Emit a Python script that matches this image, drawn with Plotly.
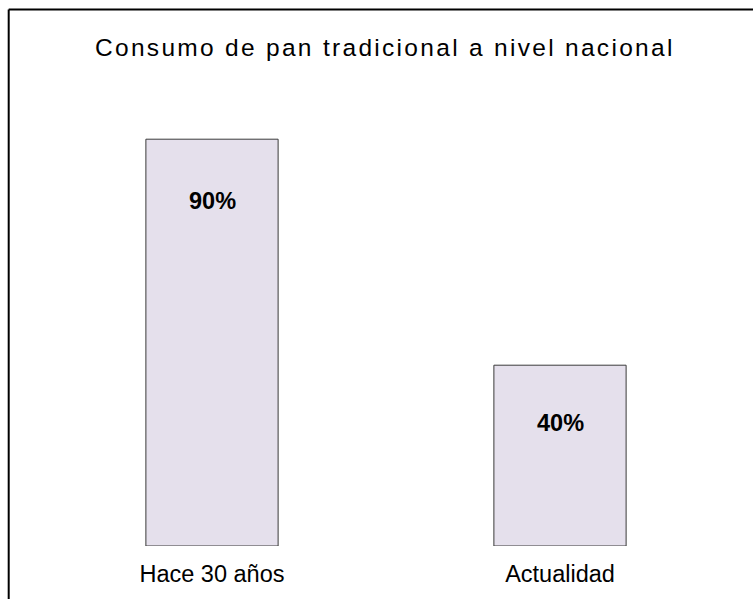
import plotly.graph_objects as go

categories = ["Hace 30 años", "Actualidad"]
values = [90, 40]
title_text = "Consumo de pan tradicional a nivel nacional"

W, H = 753, 599
L, R, T, B = 38, 19, 94, 53
pw, ph = W - L - R, H - T - B

font_family = "Liberation Sans, Arial, Helvetica, sans-serif"

fig = go.Figure()
fig.add_trace(go.Bar(
    x=categories, y=values, width=0.38,
    marker=dict(color="#E5E0EC", line=dict(color="#3A3A3A", width=1)),
    hoverinfo="skip",
))

label_shifts = [-62, -58]
for c, v, s in zip(categories, values, label_shifts):
    fig.add_annotation(x=c, y=v, text=f"<b>{v}%</b>", showarrow=False,
                       yshift=s, yanchor="middle",
                       font=dict(family=font_family, size=23.5, color="#000000"))

fig.add_annotation(
    xref="paper", yref="paper",
    x=(385 - L) / pw, y=(H - B - 48) / ph,
    text=f'<span style="letter-spacing:2.3px">{title_text}</span>',
    showarrow=False, xanchor="center", yanchor="middle",
    font=dict(family=font_family, size=24.5, color="#000000"))

# outer frame (top and left edges visible)
fig.add_shape(type="line", xref="paper", yref="paper",
              x0=(8.7 - L) / pw, x1=(W + 20 - L) / pw,
              y0=(H - B - 9.5) / ph, y1=(H - B - 9.5) / ph,
              line=dict(color="#000000", width=2))
fig.add_shape(type="line", xref="paper", yref="paper",
              x0=(8.7 - L) / pw, x1=(8.7 - L) / pw,
              y0=(H - B - 9.5) / ph, y1=(H - B - H - 20) / ph,
              line=dict(color="#000000", width=2))

fig.update_layout(
    width=W, height=H,
    margin=dict(l=L, r=R, t=T, b=B, pad=0),
    paper_bgcolor="white", plot_bgcolor="white",
    showlegend=False,
    xaxis=dict(range=[-0.5, 1.5], showgrid=False, zeroline=False, showline=False,
               ticks="", ticklabelstandoff=11,
               tickfont=dict(family=font_family, size=23.5, color="#000000"),
               fixedrange=True),
    yaxis=dict(range=[0, 100], visible=False, showgrid=False, zeroline=False,
               fixedrange=True),
)

fig.write_html("out.html", config={"displayModeBar": False})
